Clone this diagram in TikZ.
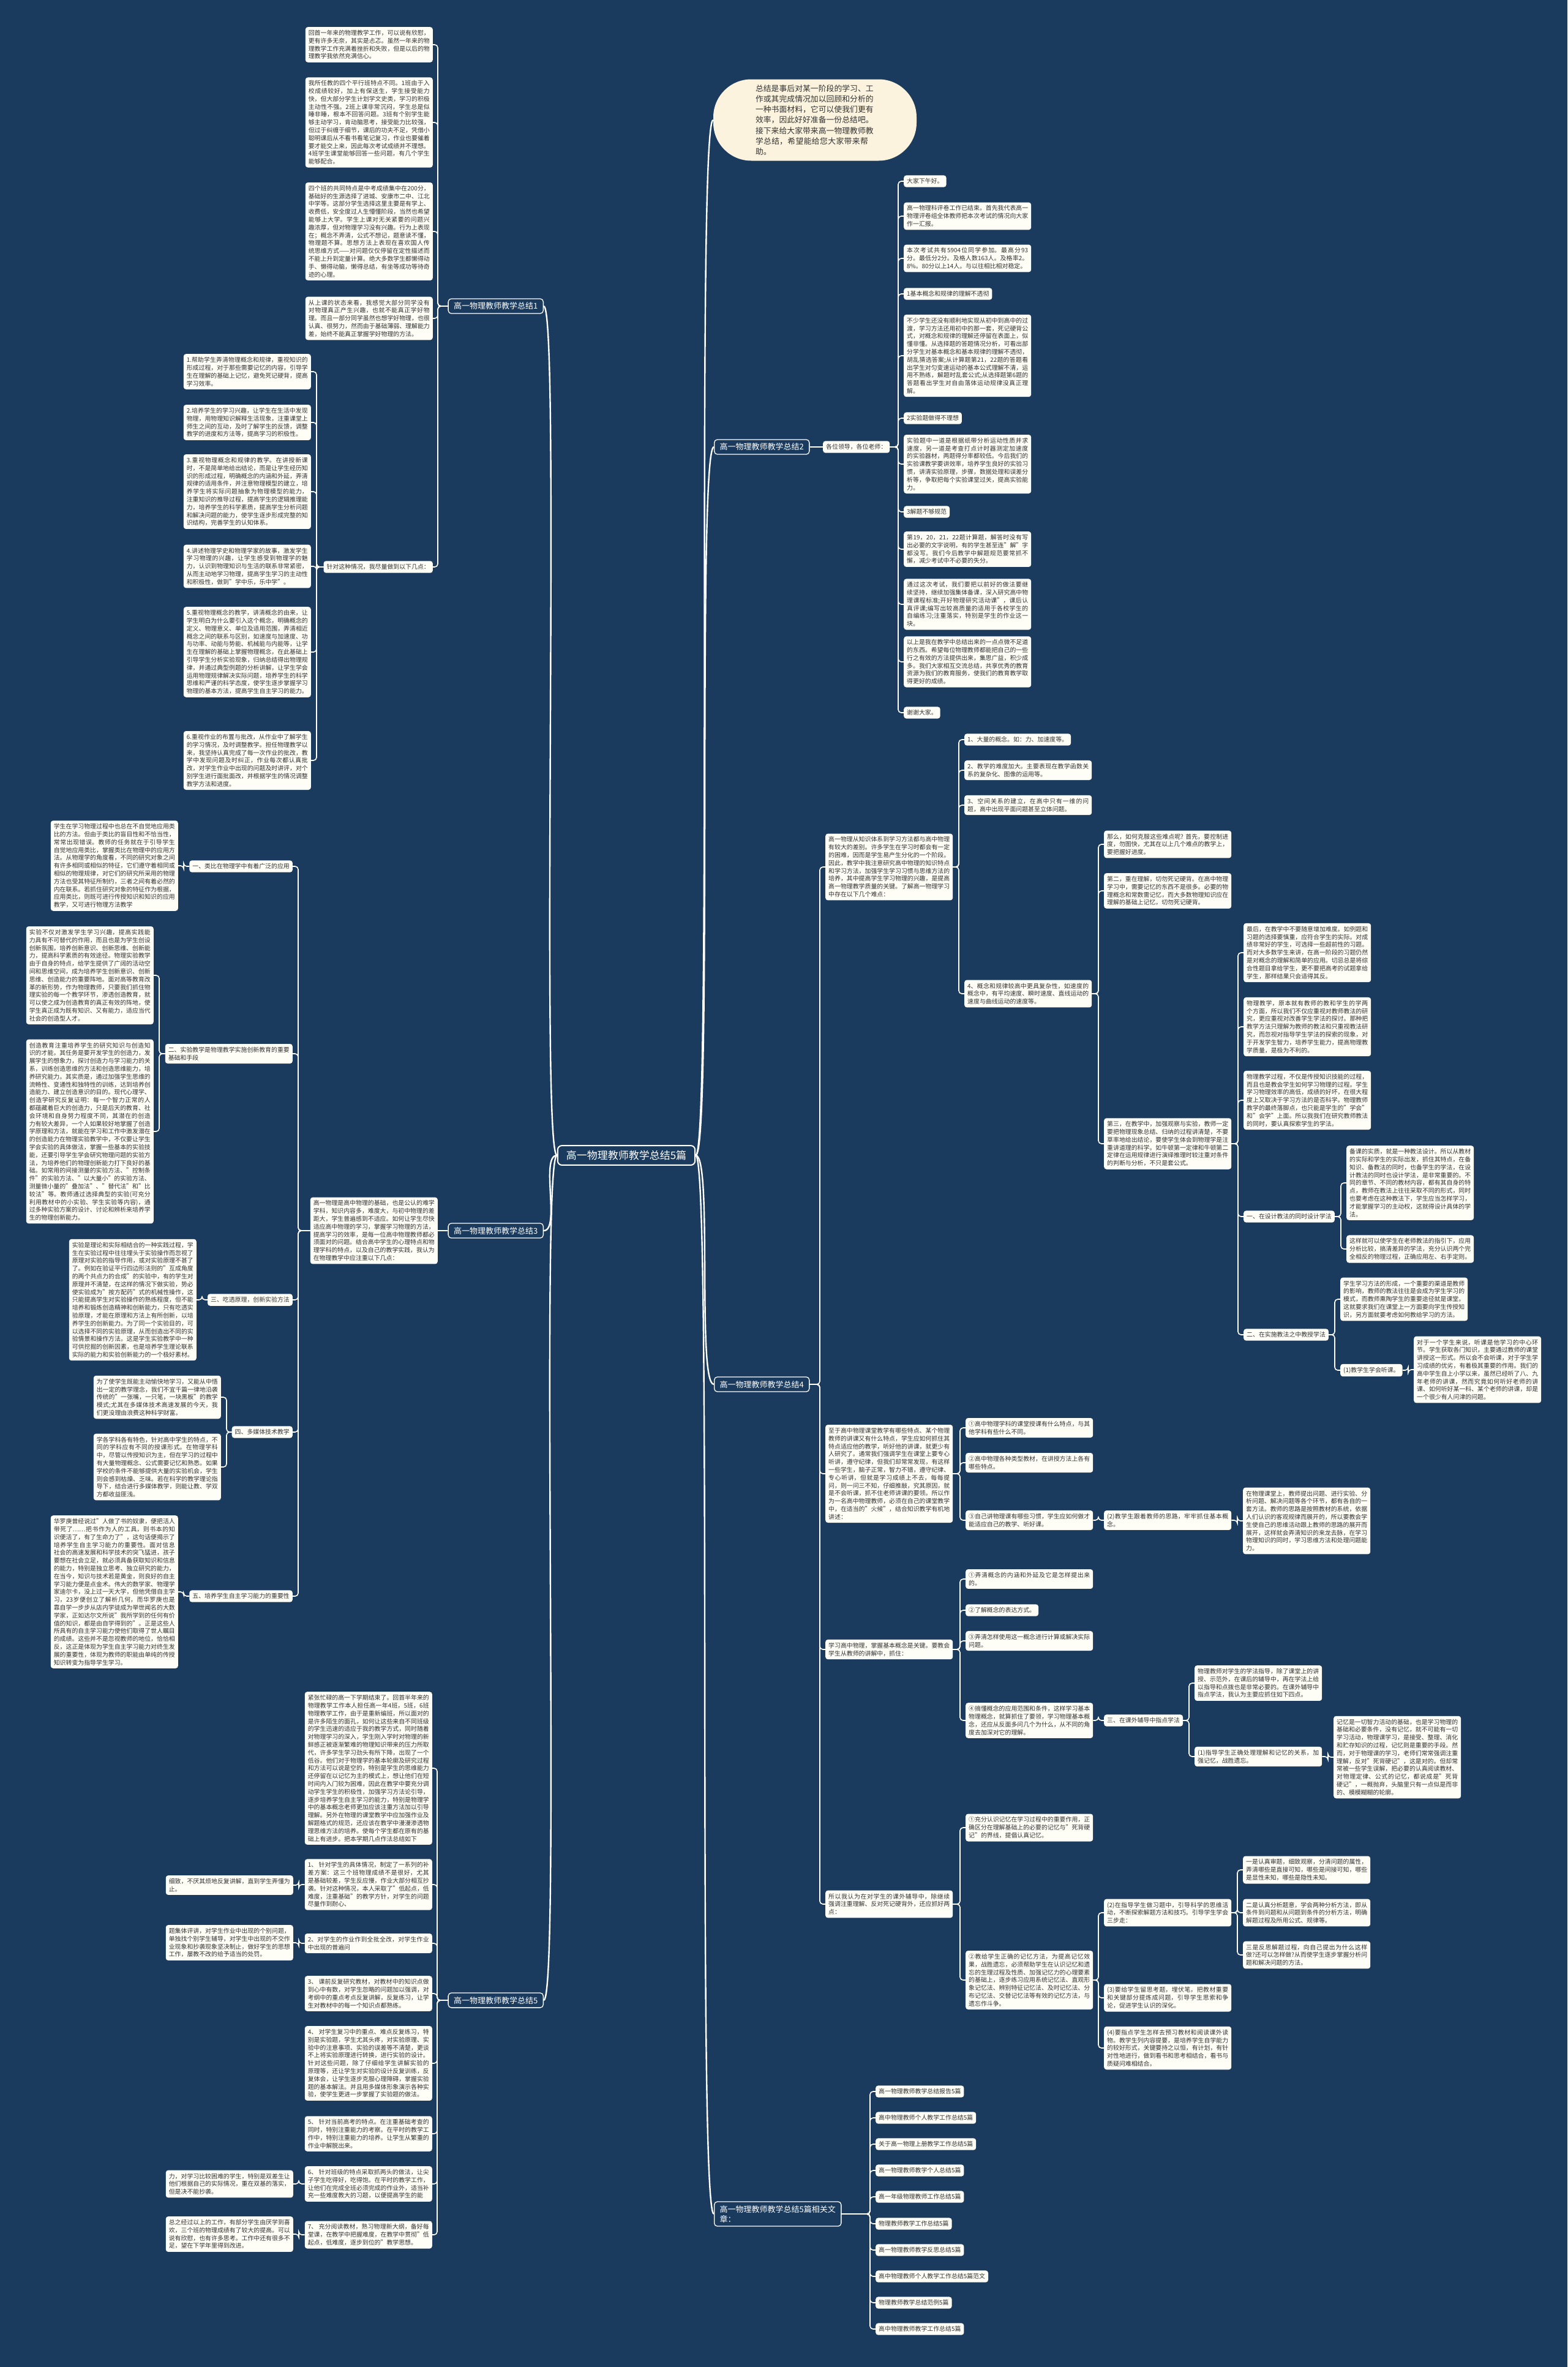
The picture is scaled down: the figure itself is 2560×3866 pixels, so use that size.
\documentclass[tikz,border=0pt]{standalone}
\usepackage{fontspec}
\setmainfont{Noto Sans CJK SC}
\XeTeXlinebreaklocale "zh"
\XeTeXlinebreakskip=0pt plus 1pt
\definecolor{bgc}{HTML}{1A3B5D}
\definecolor{leafc}{HTML}{FEFDF6}
\definecolor{pillc}{HTML}{FBF3DD}
\definecolor{txtc}{HTML}{333333}
\newcommand\leaffont{\fontsize{9.9}{12.8}\selectfont}
\newcommand\brfont{\fontsize{13}{16}\selectfont}
\newcommand\rootfont{\fontsize{17}{20}\selectfont}
\newcommand\pillfont{\fontsize{12.8}{17.2}\selectfont}
\tikzset{
 leaf/.style={fill=leafc, text=txtc, rounded corners=4pt, font=\leaffont, inner xsep=5pt, inner ysep=5pt, text width=198pt, align=justify},
 sleaf/.style={fill=leafc, text=txtc, rounded corners=4pt, font=\leaffont, inner xsep=5pt, inner ysep=5pt},
 branch/.style={draw=white, line width=1.3pt, fill=bgc, text=white, rounded corners=5pt, font=\brfont, inner xsep=9pt, inner ysep=6pt},
 rootnode/.style={draw=white, line width=2pt, fill=bgc, text=white, rounded corners=7pt, font=\rootfont, inner xsep=14pt, inner ysep=8pt},
 pill/.style={fill=pillc, text=txtc, rounded corners=62pt, font=\pillfont, text width=194pt, align=left, minimum width=332pt, minimum height=133pt},
 conn/.style={draw=white, line width=1.6pt, rounded corners=5pt},
 mainconn/.style={draw=white, line width=2.4pt},
}
\newcommand\lfR[4]{\node[leaf,anchor=west] (#1) at (#2,#3) {#4};}
\newcommand\lfL[4]{\node[leaf,anchor=east] (#1) at (#2,#3) {#4};}
\newcommand\sfR[4]{\node[sleaf,anchor=west] (#1) at (#2,#3) {#4};}
\newcommand\sfL[4]{\node[sleaf,anchor=east] (#1) at (#2,#3) {#4};}
\newcommand\cnR[2]{\draw[conn] (#2.west) -- ++(-9,0) |- (#1.east);}
\newcommand\cnL[2]{\draw[conn] (#2.east) -- ++(9,0) |- (#1.west);}
\newcommand\mcR[1]{\draw[mainconn] (root.east) .. controls +(28,0) and +(-28,0) .. (#1.west);}
\newcommand\mcL[1]{\draw[mainconn] (root.west) .. controls +(-28,0) and +(28,0) .. (#1.east);}
\begin{document}
\begin{tikzpicture}[x=1pt,y=-1pt]
\fill[bgc] (0,0) rectangle (2560,3866);
\useasboundingbox (0,0) rectangle (2560,3866);

% ---------- root and main branches ----------
\node[rootnode] (root) at (1023,1887) {高一物理教师教学总结5篇};
\node[pill] (intro) at (1331,196) {总结是事后对某一阶段的学习、工作或其完成情况加以回顾和分析的一种书面材料，它可以使我们更有效率，因此好好准备一份总结吧。接下来给大家带来高一物理教师教学总结，希望能给您大家带来帮助。};
\node[branch,anchor=east] (b1) at (888,500) {高一物理教师教学总结1};
\node[branch,anchor=west] (b2) at (1166,730) {高一物理教师教学总结2};
\node[branch,anchor=east] (b3) at (888,2010) {高一物理教师教学总结3};
\node[branch,anchor=west] (b4) at (1166,2261) {高一物理教师教学总结4};
\node[branch,anchor=east] (b5) at (888,3267) {高一物理教师教学总结5};
\node[branch,anchor=west,align=left] (b6) at (1166,3616) {高一物理教师教学总结5篇相关文\\章：};
\mcR{intro}\mcR{b2}\mcR{b4}\mcR{b6}
\mcL{b1}\mcL{b3}\mcL{b5}

% ---------- summary 1 ----------
\lfL{a1}{707}{73}{回首一年来的物理教学工作，可以说有欣慰，更有许多无奈，其实是忐忑。虽然一年来的物理教学工作充满着挫折和失败，但是以后的物理教学我依然充满信心。}
\lfL{a2}{707}{200}{我所任教的四个平行班特点不同。1班由于入校成绩较好，加上有保送生，学生接受能力快，但大部分学生计划学文史类，学习的积极主动性不强。2班上课非常沉闷，学生总是似睡非睡，根本不回答问题。3班有个别学生能够主动学习，肯动脑思考，接受能力比较强，但过于纠缠于细节，课后的功夫不足，凭借小聪明课后从不看书看笔记复习，作业也要催着要才能交上来，因此每次考试成绩并不理想。4班学生课堂能够回答一些问题，有几个学生能够配合。}
\lfL{a3}{707}{378}{四个班的共同特点是中考成绩集中在200分，基础好的生源选择了进城、安康市二中、江北中学等。这部分学生选择这里主要是有学上、收费低，安全度过人生懵懂阶段，当然也希望能够上大学。学生上课对无关紧要的问题兴趣浓厚，但对物理学习没有兴趣。行为上表现在；概念不弄清，公式不想记，题意读不懂，物理题不算。思想方法上表现在喜欢国人传统思维方式——对问题仅仅停留在定性描述而不能上升到定量计算。绝大多数学生都懒得动手、懒得动脑，懒得总结，有坐等成功等待奇迹的心理。}
\lfL{a4}{707}{520}{从上课的状态来看，我感觉大部分同学没有对物理真正产生兴趣，也就不能真正学好物理。而且一部分同学虽然也想学好物理，也很认真、很努力，然而由于基础薄弱、理解能力差，始终不能真正掌握学好物理的方法。}
\sfL{a5}{707}{926}{针对这种情况，我尽量做到以下几点：}
\lfL{l1}{508}{607}{1.帮助学生弄清物理概念和规律，重视知识的形成过程，对于那些需要记忆的内容，引导学生在理解的基础上记忆，避免死记硬背，提高学习效率。}
\lfL{l2}{508}{690}{2.培养学生的学习兴趣，让学生在生活中发现物理，用物理知识解释生活现象，注重课堂上师生之间的互动，及时了解学生的反馈，调整教学的进度和方法等，提高学习的积极性。}
\lfL{l3}{508}{803}{3.重视物理概念和规律的教学。在讲授新课时，不是简单地给出结论，而是让学生经历知识的形成过程，明确概念的内涵和外延，弄清规律的适用条件，并注意物理模型的建立，培养学生将实际问题抽象为物理模型的能力，注重知识的推导过程，提高学生的逻辑推理能力，培养学生的科学素质，提高学生分析问题和解决问题的能力，使学生逐步形成完整的知识结构，完善学生的认知体系。}
\lfL{l4}{508}{925}{4.讲述物理学史和物理学家的故事，激发学生学习物理的兴趣，让学生感受到物理学的魅力，认识到物理知识与生活的联系非常紧密，从而主动地学习物理，提高学生学习的主动性和积极性，做到"学中乐，乐中学"。}
\lfL{l5}{508}{1065}{5.重视物理概念的教学，讲清概念的由来，让学生明白为什么要引入这个概念，明确概念的定义、物理意义、单位及适用范围，弄清相近概念之间的联系与区别，如速度与加速度、功与功率、动能与势能、机械能与内能等，让学生在理解的基础上掌握物理概念，在此基础上引导学生分析实验现象，归纳总结得出物理规律，并通过典型例题的分析讲解，让学生学会运用物理规律解决实际问题，培养学生的科学思维和严谨的科学态度，使学生逐步掌握学习物理的基本方法，提高学生自主学习的能力。}
\lfL{l6}{508}{1242}{6.重视作业的布置与批改，从作业中了解学生的学习情况，及时调整教学。担任物理教学以来，我坚持认真完成了每一次作业的批改，教学中发现问题及时纠正，作业每次都认真批改，对学生作业中出现的问题及时讲评，对个别学生进行面批面改，并根据学生的情况调整教学方法和进度。}
\foreach \c in {a1,a2,a3,a4,a5} {\draw[conn] (\c.east) -- ++(8,0) |- (b1.west);}
\foreach \c in {l1,l2,l3,l4,l5,l6} {\cnL{a5}{\c}}

% ---------- summary 2 ----------
\sfR{g}{1344}{730}{各位领导，各位老师：}
\sfR{c1}{1476}{296}{大家下午好。}
\lfR{c2}{1476}{353}{高一物理科评卷工作已结束。首先我代表高一物理评卷组全体教师把本次考试的情况向大家作一汇报。}
\lfR{c3}{1476}{422}{本次考试共有5904位同学参加。最高分93分。最低分2分。及格人数163人。及格率2。8\%。80分以上14人。与以往相比相对稳定。}
\sfR{c4}{1476}{480}{1基本概念和规律的理解不透彻}
\lfR{c5}{1476}{581}{不少学生还没有顺利地实现从初中到高中的过渡，学习方法还用初中的那一套，死记硬背公式，对概念和规律的理解还停留在表面上，似懂非懂。从选择题的答题情况分析，可看出部分学生对基本概念和基本规律的理解不透彻，胡乱猜选答案;从计算题第21，22题的答题看出学生对匀变速运动的基本公式理解不清，运用不熟练，解题时乱套公式;从选择题第6题的答题看出学生对自由落体运动规律没真正理解。}
\sfR{c6}{1476}{683}{2实验题做得不理想}
\lfR{c7}{1476}{758}{实验题中一道是根据纸带分析运动性质并求速度，另一道是考查打点计时器测定加速度的实验器材，两题得分率都较低。今后我们的实验课教学要讲效率，培养学生良好的实验习惯，讲清实验原理，步骤，数据处理和误差分析等，争取把每个实验课堂过关，提高实验能力。}
\sfR{c8}{1476}{836}{3解题不够规范}
\lfR{c9}{1476}{897}{第19，20，21，22题计算题，解答时没有写出必要的文字说明，有的学生甚至连"解"字都没写。我们今后教学中解题规范要常抓不懈，减少考试中不必要的失分。}
\lfR{c10}{1476}{987}{通过这次考试，我们要把以前好的做法要继续坚持，继续加强集体备课，深入研究高中物理课程标准;开好物理研究活动课"，课后认真评课;编写出较高质量的适用于各校学生的自编练习;注重落实，特别是学生的作业这一块。}
\lfR{c11}{1476}{1081}{以上是我在教学中总结出来的一点点微不足道的东西。希望每位物理教师都能把自己的一些行之有效的方法提供出来，集思广益，积少成多。我们大家相互交流总结，共享优秀的教育资源为我们的教育服务，使我们的教育教学取得更好的成绩。}
\sfR{c12}{1476}{1164}{谢谢大家。}
\draw[conn] (b2.east) -- (g.west);
\foreach \c in {c1,c2,c3,c4,c5,c6,c7,c8,c9,c10,c11,c12} {\cnR{g}{\c}}

% ---------- summary 3 ----------
\lfL{i3}{715}{2010}{高一物理是高中物理的基础，也是公认的难学学科，知识内容多，难度大，与初中物理的差距大，学生普遍感到不适应。如何让学生尽快适应高中物理的学习，掌握学习物理的方法，提高学习的效率，是每一位高中物理教师都必须面对的问题。结合高中学生的心理特点和物理学科的特点，以及自己的教学实践，我认为在物理教学中应注重以下几点：}
\sfL{t1}{478}{1415}{一、类比在物理学中有着广泛的应用}
\lfL{t2}{478}{1721}{二、实验教学是物理教学实施创新教育的重要基础和手段}
\sfL{t3}{478}{2123}{三、吃透原理，创新实验方法}
\sfL{t4}{478}{2339}{四、多媒体技术教学}
\sfL{t5}{478}{2607}{五、培养学生自主学习能力的重要性}
\lfL{t1a}{291}{1414}{学生在学习物理过程中也总在不自觉地应用类比的方法。但由于类比的盲目性和不恰当性，常常出现错误。教师的任务就在于引导学生自觉地应用类比，掌握类比在物理中的应用方法。从物理学的角度看，不同的研究对象之间有许多相同或相似的特征，它们遵守着相同或相似的物理规律，对它们的研究所采用的物理方法也受其特征所制约，三者之间有着必然的内在联系。若抓住研究对象的特征作为根据，应用类比，则既可进行传授知识和知识的应用教学，又可进行物理方法教学}
\lfL{t2a}{251}{1593}{实验不仅对激发学生学习兴趣，提高实践能力具有不可替代的作用，而且也是为学生创设创新氛围，培养创新意识、创新思维、创新能力，提高科学素质的有效途径。物理实验教学由于自身的特点，给学生提供了广阔的活动空间和思维空间，成为培养学生创新意识、创新思维、创造能力的重要阵地。面对高等教育改革的新形势，作为物理教师，只要我们抓住物理实验的每一个教学环节，渗透创造教育，就可以使之成为创造教育的真正有效的阵地，使学生真正成为既有知识、又有能力，适应当代社会的创造型人才。}
\lfL{t2b}{251}{1848}{创造教育注重培养学生的研究知识与创造知识的才能，其任务是要开发学生的创造力，发展学生的想象力，探讨创造力与学习能力的关系，训练创造思维的方法和创造思维能力，培养研究能力。其实质是，通过加强学生思维的流畅性、变通性和独特性的训练，达到培养创造能力、建立创造意识的目的。现代心理学、创造学研究反复证明：每一个智力正常的人都蕴藏着巨大的创造力，只是后天的教育、社会环境和自身努力程度不同，其潜在的创造力有较大差异，一个人如果较好地掌握了创造学原理和方法，就能在学习和工作中激发潜在的创造能力在物理实验教学中，不仅要让学生学会实验的具体做法，掌握一些基本的实验技能，还要引导学生学会研究物理问题的实验方法，为培养他们的物理创新能力打下良好的基础。如常用的间接测量的实验方法、"控制条件"的实验方法、"以大量小"的实验方法、测量微小量的"叠加法"、"替代法"和"比较法"等。教师通过选择典型的实验(可充分利用教材中的小实验、学生实验等内容)，通过多种实验方案的设计、讨论和辨析来培养学生的物理创新能力。}
\lfL{t3a}{321}{2123}{实验是理论和实际相结合的一种实践过程，学生在实验过程中往往埋头于实验操作而忽视了原理对实验的指导作用，或对实验原理不甚了了。例如在验证平行四边形法则的"互成角度的两个共点力的合成"的实验中，有的学生对原理并不清楚，在这样的情况下做实验，势必使实验成为"按方配药"式的机械性操作，这只能提高学生对实验操作的熟练程度，但不能培养和锻炼创造精神和创新能力，只有吃透实验原理，才能在原理和方法上有所创新，以培养学生的创新能力。为了同一个实验目的，可以选择不同的实验原理，从而创造出不同的实验情景和操作方法。这是学生实验教学中一种可供挖掘的创新因素，也是培养学生理论联系实际的能力和实验创新能力的一个极好素材。}
\lfL{t4a}{361}{2282}{为了使学生既能主动愉快地学习，又能从中悟出一定的教学理念，我们不宜千篇一律地沿袭传统的"一张嘴，一只笔，一块黑板"的教学模式;尤其在多媒体技术高速发展的今天，我们更没理由浪费这种科学财富。}
\lfL{t4b}{361}{2396}{学各学科各有特色，针对高中学生的特点，不同的学科应有不同的授课形式。在物理学科中，尽管以传授知识为主，但在学习的过程中有大量物理概念、公式需要记忆和熟悉。如果学校的条件不能够提供大量的实验机会，学生则会感到枯燥、乏味。若在科学的教学理论指导下，结合进行多媒体教学，则能让教、学双方都收益匪浅。}
\lfL{t5a}{291}{2600}{华罗庚曾经说过"人做了书的奴隶，便把活人带死了……把书作为人的工具，则书本的知识便活了，有了生命力了"，这句话便揭示了培养学生自主学习能力的重要性。面对信息社会的高速发展和科学技术的突飞猛进，孩子要想在社会立足，就必须具备获取知识和信息的能力，特别是独立思考、独立研究的能力，在当今，知识与技术若是黄金，则良好的自主学习能力便是点金术。伟大的数学家、物理学家迪尔卡，没上过一天大学，但他凭借自主学习，23岁便创立了解析几何，而华罗庚也是靠自学一步步从店内学徒成为举世闻名的大数学家，正如达尔文所说"我所学到的任何有价值的知识，都是由自学得到的"。正是这些人所具有的自主学习能力使他们取得了世人瞩目的成绩。这些并不是忽视教师的地位，恰恰相反，这正是体现为学生自主学习能力对终生发展的重要性，体现为教师的职能由单纯的传授知识转变为指导学生学习。}
\draw[conn] (i3.east) -- (b3.west);
\foreach \c in {t1,t2,t3,t4,t5} {\cnL{i3}{\c}}
\cnL{t1}{t1a}\cnL{t2}{t2a}\cnL{t2}{t2b}\cnL{t3}{t3a}\cnL{t4}{t4a}\cnL{t4}{t4b}\cnL{t5}{t5a}

% ---------- summary 4 ----------
\lfR{P}{1348}{1416}{高一物理从知识体系到学习方法都与高中物理有较大的差别。许多学生在学习时都会有一定的困难，因而是学生易产生分化的一个阶段。因此，教学中我注意研究高中物理的知识特点和学习方法，加强学生学习习惯与思维方法的培养，其中提高学生学习物理的兴趣，是提高高一物理教学质量的关键。了解高一物理学习中存在以下几个难点：}
\sfR{p1}{1575}{1208}{1、大量的概念。如：力、加速度等。}
\lfR{p2}{1575}{1258}{2、教学的难度加大。主要表现在教学函数关系的复杂化、图像的运用等。}
\lfR{p3}{1575}{1315}{3、空间关系的建立，在高中只有一维的问题，高中出现平面问题甚至立体问题。}
\lfR{p4}{1575}{1623}{4、概念和规律较高中更具复杂性，如速度的概念中，有平均速度、瞬时速度、直线运动的速度与曲线运动的速度等。}
\lfR{n1}{1803}{1379}{那么，如何克服这些难点呢? 首先，要控制进度，勿图快，尤其在以上几个难点的教学上，要把握好进度。}
\lfR{n2}{1803}{1455}{第二，重在理解，切勿死记硬背。在高中物理学习中，需要记忆的东西不是很多。必要的物理概念和常数需记忆，而大多数物理知识应在理解的基础上记忆，切勿死记硬背。}
\lfR{n3}{1803}{1868}{第三，在教学中，加强观察与实验，教师一定要把物理现象总结、归纳的过程讲清楚，不要草率地给出结论，要使学生体会到物理学是注重讲道理的科学。如牛顿第一定律和牛顿第二定律在运用规律进行演绎推理时较注重对条件的判断与分析，不只是套公式。}
\lfR{m1}{2031}{1556}{最后，在教学中不要随意增加难度。如例题和习题的选择要慎重，应符合学生的实际。对成绩非常好的学生，可选择一些超前性的习题。而对大多数学生来讲，在高一阶段的习题仍然是对概念的理解和简单的应用。切忌总是将综合性题目拿给学生，更不要把高考的试题拿给学生，那样结果只会适得其反。}
\lfR{m2}{2031}{1677}{物理教学，原本就有教师的教和学生的学两个方面，所以我们不仅应重视对教师教法的研究，更应重视对改善学生学法的探讨。那种把教学方法只理解为教师的教法和只重视教法研究，而忽视对指导学生学法的探索的现象，对于开发学生智力，培养学生能力，提高物理教学质量，是极为不利的。}
\lfR{m3}{2031}{1797}{物理教学过程，不仅是传授知识技能的过程，而且也是教会学生如何学习物理的过程。学生学习物理效率的高低，成绩的好坏，在很大程度上又取决于学习方法的是否科学。物理教师教学的最终落脚点，也只能是学生的"学会"和"会学"上面。所以我我们在研究教师教法的同时，要认真探索学生的学法。}
\sfR{m4}{2031}{1987}{一、在设计教法的同时设计学法}
\sfR{m5}{2031}{2180}{二、在实施教法之中教授学法}
\lfR{m4a}{2199}{1932}{备课的实质，就是一种教法设计。所以从教材的实际和学生的实际出发，抓住其特点，在备知识、备教法的同时，也备学生的学法，在设计教法的同时也设计学法，是非常重要的。不同的章节、不同的教材内容，都有其自身的特点，教师在教法上往往采取不同的形式，同时也要考虑在这种教法下，学生应当怎样学习，才能掌握学习的主动权，这就得设计具体的学法。}
\lfR{m4b}{2199}{2040}{这样就可以使学生在老师教法的指引下，应用分析比较，搞清差异的学法，充分认识两个完全相反的物理过程，正确应用左、右手定则。}
\lfR{m5a}{2189}{2122}{学生学习方法的形成，一个重要的渠道是教师的影响，教师的教法往往是会成为学生学习的模式，而教师熏陶学生的重要途径就是课堂。这就要求我们在课堂上一方面要向学生传授知识，另方面就要考虑如何教给学习的方法。}
\sfR{m5b}{2189}{2238}{(1)教学生学会听课。}
\lfR{m5c}{2309}{2237}{对于一个学生来说，听课是他学习的中心环节。学生获取各门知识，主要通过教师的课堂讲授这一形式。所以会不会听课，对于学生学习成绩的优劣，有着极其重要的作用。我们的高中学生自上小学以来，虽然已经听了八、九年老师的讲课，然而究竟如何听好老师的讲课、如何听好某一科、某个老师的讲课，却是一个很少有人问津的问题。}
\lfR{Z}{1348}{2407}{至于高中物理课堂教学有哪些特点、某个物理教师的讲课又有什么特点，学生应如何抓住其特点适应他的教学，听好他的讲课，就更少有人研究了。通常我们强调学生在课堂上要专心听讲，遵守纪律，但我们却常常发现，有这样一些学生，脑子正常，智力不错，遵守纪律、专心听讲，但就是学习成绩上不去，每每提问，则一问三不知，仔细推敲，究其原因，就是不会听课，抓不住老师讲课的要领。所以作为一名高中物理教师，必须在自己的课堂教学中，在适当的"火候"，结合知识教学有机地讲述：}
\lfR{z1}{1577}{2332}{①高中物理学科的课堂授课有什么特点，与其他学科有些什么不同。}
\lfR{z2}{1577}{2389}{②高中物理各种类型教材，在讲授方法上各有哪些特点。}
\lfR{z3}{1577}{2483}{③自己讲物理课有哪些习惯，学生应如何做才能适应自己的教学、听好课。}
\lfR{z3a}{1803}{2483}{(2)教学生跟着教师的思路，牢牢抓住基本概念。}
\lfR{z3b}{2030}{2484}{在物理课堂上，教师提出问题、进行实验、分析问题、解决问题等各个环节，都有各自的一套方法。教师的思路是按照教材的系统，依据人们认识的客观规律而展开的，所以要教会学生使自己的思维活动跟上教师的思路的展开而展开，这样就会弄清知识的来龙去脉，在学习物理知识的同时，学习思维方法和处理问题能力。}
\lfR{X}{1348}{2694}{学习高中物理，掌握基本概念是关键。要教会学生从教师的讲解中，抓住：}
\lfR{x1}{1577}{2579}{①弄清概念的内涵和外延及它是怎样提出来的。}
\sfR{x2}{1577}{2630}{②了解概念的表达方式。}
\lfR{x3}{1577}{2680}{③弄清怎样使用这一概念进行计算或解决实际问题。}
\lfR{x4}{1577}{2810}{④搞懂概念的应用范围和条件，这样学习基本物理概念，就算抓住了要领，学习物理基本概念，还应从反面多问几个为什么，从不同的角度去加深对它的理解。}
\sfR{x4a}{1803}{2810}{三、在课外辅导中指点学法}
\lfR{y1}{1951}{2749}{物理教师对学生的学法指导，除了课堂上的讲授、示范外，在课后的辅导中，再在学法上给以指导和点拨也是非常必要的。在课外辅导中指点学法，我认为主要应抓住如下四点。}
\lfR{y2}{1951}{2869}{(1)指导学生正确处理理解和记忆的关系，加强记忆，战胜遗忘。}
\lfR{y2a}{2178}{2870}{记忆是一切智力活动的基础，也是学习物理的基础和必要条件，没有记忆，就不可能有一切学习活动，物理课学习，是接受、整理、消化和贮存知识的过程，记忆则是重要的手段。然而，对于物理课的学习，老师们常常强调注重理解，反对"死背硬记"，这是对的。但却常常被一些学生误解，把必要的认真阅读教材、对物理定律、公式的记忆，都说成是"死背硬记"，一概抛弃，头脑里只有一点似是而非的、模模糊糊的轮廓。}
\lfR{S}{1348}{3110}{所以我认为在对学生的课外辅导中，除继续强调注重理解、反对死记硬背外，还应抓好两点：}
\lfR{s1}{1577}{2985}{①充分认识记忆在学习过程中的重要作用，正确区分在理解基础上的必要的记忆与"死背硬记"的界线，提倡认真记忆。}
\lfR{s2}{1577}{3234}{②教给学生正确的记忆方法，为提高记忆效果，战胜遗忘，必须帮助学生在认识记忆和遗忘的生理过程及性质、加强记忆力的心理要素的基础上，逐步练习应用系统记忆法、直观形象记忆法、辨别特征记忆法、及时记忆法、分布记忆法、交替记忆法等有效的记忆方法，与遗忘作斗争。}
\lfR{r1}{1803}{3124}{(2)在指导学生做习题中，引导科学的思维活动，不断探索解题方法和技巧。引导学生学会三步走：}
\lfR{r2}{1803}{3263}{(3)要给学生留思考题，埋伏笔，把教材重要和关键部分提炼成问题，引导学生思索和争论，促进学生认识的深化。}
\lfR{r3}{1803}{3345}{(4)要指点学生怎样去预习教材和阅读课外读物。教学生列内容提要，是培养学生自学能力的较好形式，关键要持之以恒，有计划，有针对性地进行，做到看书和思考相结合，看书与质疑问难相结合。}
\lfR{q1}{2030}{3054}{一是认真审题，细致观察，分清问题的属性，弄清哪些是直接可知，哪些是间接可知，哪些是显性未知，哪些是隐性未知。}
\lfR{q2}{2030}{3124}{二是认真分析题意，学会两种分析方法，即从条件到问题和从问题到条件的分析方法，明确解题过程及所用公式、规律等。}
\lfR{q3}{2030}{3193}{三是反思解题过程，向自己提出为什么这样做?还可以怎样做?从而使学生逐步掌握分析问题和解决问题的方法。}
\foreach \c in {P,Z,X,S} {\cnR{b4}{\c}}
\foreach \c in {p1,p2,p3,p4} {\cnR{P}{\c}}
\foreach \c in {n1,n2,n3} {\cnR{p4}{\c}}
\foreach \c in {m1,m2,m3,m4,m5} {\cnR{n3}{\c}}
\cnR{m4}{m4a}\cnR{m4}{m4b}\cnR{m5}{m5a}\cnR{m5}{m5b}\cnR{m5b}{m5c}
\foreach \c in {z1,z2,z3} {\cnR{Z}{\c}}
\cnR{z3}{z3a}\cnR{z3a}{z3b}
\foreach \c in {x1,x2,x3,x4} {\cnR{X}{\c}}
\cnR{x4}{x4a}\cnR{x4a}{y1}\cnR{x4a}{y2}\cnR{y2}{y2a}
\cnR{S}{s1}\cnR{S}{s2}
\foreach \c in {r1,r2,r3} {\cnR{s2}{\c}}
\foreach \c in {q1,q2,q3} {\cnR{r1}{\c}}

% ---------- summary 5 ----------
\lfL{e0}{706}{2888}{紧张忙碌的高一下学期结束了。回首半年来的物理教学工作本人担任高一年4班，5班，6班物理教学工作，由于是重新编班，所以面对的是许多陌生的面孔，如何让这些来自不同班级的学生迅速的适应于我的教学方式，同时随着对物理学习的深入，学生刚入学时对物理的新鲜感正被逐渐繁难的物理知识带来的压力所取代，许多学生学习劲头有所下降，出现了一个低谷。他们对于物理学的基本轮廓及研究过程和方法可以说是空的，特别是学生的思维能力还停留在以记忆为主的模式上，想让他们在短时间内入门较为困难，因此在教学中要充分调动学生学生的积极性，加强学习方法论引导，逐步培养学生自主学习的能力，特别是物理学中的基本概念老师更加应该注重方法加以引导理解。另外在物理的课堂教学中应加强作业及解题格式的规范，还应该在教学中漫漫渗透物理思维方法的培养。使每个学生都在原有的基础上有进步。把本学期几点作法总结如下}
\lfL{e1}{706}{3078}{1、 针对学生的具体情况，制定了一系列的补差方案：这三个班物理成绩不是很好，尤其是基础较差，学生反应慢，作业大部分相互抄袭。针对这种情况，本人采取了"低起点，低难度，注重基础"的教学方针，对学生的问题尽量作到耐心、}
\lfL{e2}{706}{3174}{2、对学生的作业作到全批全改，对学生作业中出现的普遍问}
\lfL{e3}{706}{3256}{3、 课前反复研究教材，对教材中的知识点做到心中有数，对学生忽略的问题加以强调，对考纲中的重点考点反复讲解，反复练习，让学生对教材中的每一个知识点都熟练。}
\lfL{e4}{706}{3370}{4、 对学生复习中的重点、难点反复练习，特别是实验题，学生尤其头疼，对实验原理、实验中的注意事项、实验的误差等不清楚，更谈不上将实验原理进行转换，进行实验的设计。针对这些问题，除了仔细给学生讲解实验的原理等，还让学生对实验的设计反复训练，反复体会，让学生逐步克服心理障碍，掌握实验题的基本解法。并且用多媒体形象演示各种实验，使学生更进一步掌握了实验题的做法。}
\lfL{e5}{706}{3485}{5、 针对当前高考的特点。在注重基础考查的同时，特别注重能力的考察。在平时的教学工作中，特别注重能力的培养。让学生从繁重的作业中解脱出来。}
\lfL{e6}{706}{3567}{6、 针对班级的特点采取抓两头的做法，让尖子学生吃得好，吃得饱。在平时的教学工作，让他们在完成全班必须完成的作业外，适当补充一些难度教大的习题，以便提高学生的能}
\lfL{e7}{706}{3650}{7、 充分阅读教材，熟习物理新大纲，备好每堂课，在教学中把握难度，在教学中贯彻"低起点，低难度，逐步到位的"教学思想。}
\lfL{f1}{479}{3079}{细致，不厌其烦地反复讲解，直到学生弄懂为止。}
\lfL{f2}{479}{3173}{题集体评讲，对学生作业中出现的个别问题，单独找个别学生辅导，对学生中出现的不交作业现象和抄袭现象坚决制止，做好学生的思想工作，屡教不改的给予适当的处罚。}
\lfL{f6}{479}{3567}{力，对学习比较困难的学生，特别是双差生让他们根据自己的实际情况，重在双基的落实，但是决不能抄袭。}
\lfL{f7}{479}{3649}{总之经过以上的工作，有部分学生由厌学到喜欢，三个班的物理成绩有了较大的提高。可以说有欣慰，也有许多思考。工作中还有很多不足，望在下学年里得到改进。}
\foreach \c in {e0,e1,e2,e3,e4,e5,e6,e7} {\draw[conn] (\c.east) -- ++(8,0) |- (b5.west);}
\cnL{e1}{f1}\cnL{e2}{f2}\cnL{e6}{f6}\cnL{e7}{f7}

% ---------- related ----------
\sfR{k1}{1430}{3416}{高一物理教师教学总结报告5篇}
\sfR{k2}{1430}{3459}{高中物理教师个人教学工作总结5篇}
\sfR{k3}{1430}{3502}{关于高一物理上册教学工作总结5篇}
\sfR{k4}{1430}{3545}{高一物理教师教学个人总结5篇}
\sfR{k5}{1430}{3588}{高一年级物理教师工作总结5篇}
\sfR{k6}{1430}{3632}{物理教师教学工作总结5篇}
\sfR{k7}{1430}{3675}{高一物理教师教学反思总结5篇}
\sfR{k8}{1430}{3718}{高中物理教师个人教学工作总结5篇范文}
\sfR{k9}{1430}{3761}{物理教师教学总结范例5篇}
\sfR{k10}{1430}{3804}{高中物理教师教学工作总结5篇}
\foreach \c in {k1,k2,k3,k4,k5,k6,k7,k8,k9,k10} {\cnR{b6}{\c}}
\end{tikzpicture}
\end{document}
